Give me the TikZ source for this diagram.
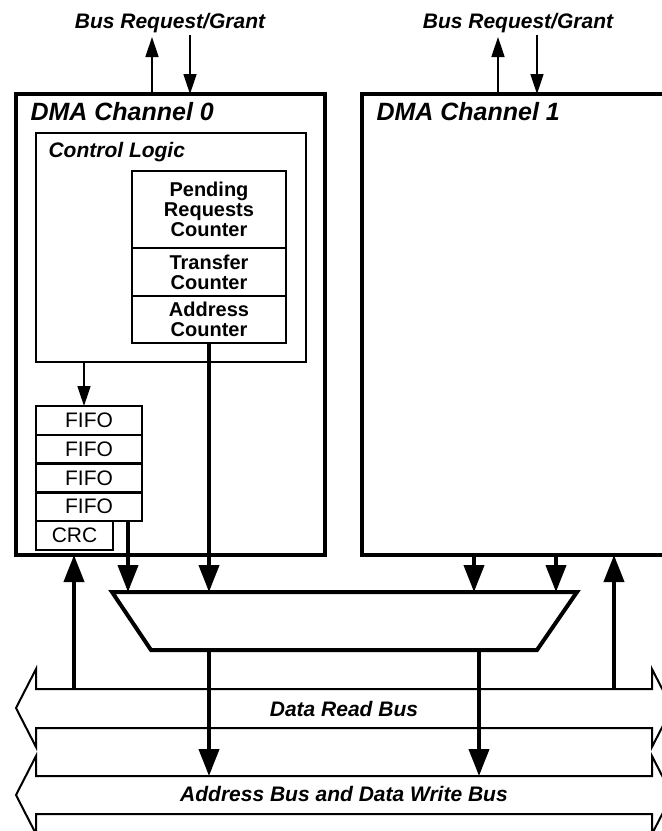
\documentclass[tikz,border=0pt]{standalone}
\usepackage{fontspec}
\setmainfont{Liberation Sans}
\usetikzlibrary{arrows.meta}

\begin{document}
\begin{tikzpicture}[x=1pt, y=-1pt,
    chan/.style={draw, line width=4pt, inner sep=0pt, outer sep=0pt, anchor=north west},
    box/.style={draw, line width=2pt, inner sep=0pt, outer sep=0pt, anchor=north west},
    cell/.style={box, line width=2.5pt, font=\fontsize{21}{21}\selectfont},
    cnt/.style={box, align=center, font=\fontsize{20}{20}\selectfont\bfseries},
    chantitle/.style={anchor=base west, font=\fontsize{25}{25}\selectfont\bfseries\itshape},
    buslbl/.style={anchor=base, font=\fontsize{21}{21}\selectfont\bfseries\itshape},
    smallarrow/.style={line width=1.5pt, -{Triangle[length=20pt, width=13pt]}},
    bigarrow/.style={line width=4pt, -{Triangle[length=27pt, width=20pt]}},
    bus/.style={line width=2pt, line join=miter}]
    \useasboundingbox (0,0) rectangle (662,831);

    % channels
    \node[chan, minimum width=309pt, minimum height=461pt] (ch0) at (16,94) {};
    \node[chan, minimum width=400pt, minimum height=461pt] (ch1) at (362,94) {};
    \node[chantitle] (t0) at (27,120) {DMA Channel 0};
    \node[chantitle] (t1) at (373,120) {DMA Channel 1};

    % bus request / grant
    \node[buslbl] (brg0) at (170,28) {Bus Request/Grant};
    \node[buslbl] (brg1) at (518,28) {Bus Request/Grant};
    \coordinate (req0) at (152,37);
    \coordinate (gnt0) at (190,35);
    \coordinate (req1) at (498,37);
    \coordinate (gnt1) at (537,35);
    \draw[smallarrow] (req0 |- ch0.north) -- (req0);
    \draw[smallarrow] (gnt0) -- (gnt0 |- ch0.north);
    \draw[smallarrow] (req1 |- ch1.north) -- (req1);
    \draw[smallarrow] (gnt1) -- (gnt1 |- ch1.north);

    % control logic
    \node[box, minimum width=270pt, minimum height=229pt] (ctrl) at (36,133) {};
    \node[anchor=base west, font=\fontsize{21}{21}\selectfont\bfseries\itshape] (ctrllbl) at (45,157) {Control Logic};
    \node[cnt, minimum width=154pt, minimum height=77pt] (pend) at (132,171) {Pending\\Requests\\Counter};
    \node[cnt, minimum width=154pt, minimum height=48pt] (xfer) at (132,248) {Transfer\\Counter};
    \node[cnt, minimum width=154pt, minimum height=47pt] (addr) at (132,296) {Address\\Counter};

    % fifo stack
    \foreach \i in {1,...,4}
        \node[cell, minimum width=106pt, minimum height=28.75pt] (fifo\i) at (36,{406+28.75*(\i-1)}) {FIFO};
    \node[cell, minimum width=77pt, minimum height=29pt] (crc) at (36,521) {CRC};
    \coordinate (cf) at (84,406);
    \draw[smallarrow] (cf |- ctrl.south) -- (cf);

    % multiplexer
    \coordinate (muxa) at (112,592);
    \coordinate (muxb) at (577,592);
    \coordinate (muxc) at (537,650);
    \coordinate (muxd) at (151,650);
    \draw[line width=4pt, line join=miter] (muxa) -- (muxb) -- (muxc) -- (muxd) -- cycle;

    \coordinate (fo) at (128,521);
    \coordinate (m1) at (474,592);
    \coordinate (m2) at (556,592);
    \draw[bigarrow] (fo) -- (fo |- muxa);
    \draw[bigarrow] (addr.south) -- (addr.south |- muxa);
    \draw[bigarrow] (m1 |- ch1.south) -- (m1);
    \draw[bigarrow] (m2 |- ch1.south) -- (m2);

    % buses
    \draw[bus] (36,689) -- (36,669) -- (16,708) -- (36,747) -- (36,728) -- (652,728)
        -- (652,747) -- (672,708) -- (652,669) -- (652,689) -- cycle;
    \draw[bus] (36,776) -- (36,756) -- (16,795) -- (36,834) -- (36,814) -- (652,814)
        -- (652,834) -- (672,795) -- (652,756) -- (652,776) -- cycle;
    \node[buslbl] (rdbus) at (344,716) {Data Read Bus};
    \node[buslbl] (wrbus) at (344,801) {Address Bus and Data Write Bus};

    \coordinate (rd0) at (74,689);
    \coordinate (rd1) at (614,689);
    \coordinate (wr0) at (209,776);
    \coordinate (wr1) at (479,776);
    \draw[bigarrow] (rd0) -- (rd0 |- ch0.south);
    \draw[bigarrow] (rd1) -- (rd1 |- ch1.south);
    \draw[bigarrow] (wr0 |- muxd) -- (wr0);
    \draw[bigarrow] (wr1 |- muxd) -- (wr1);
\end{tikzpicture}
\end{document}
